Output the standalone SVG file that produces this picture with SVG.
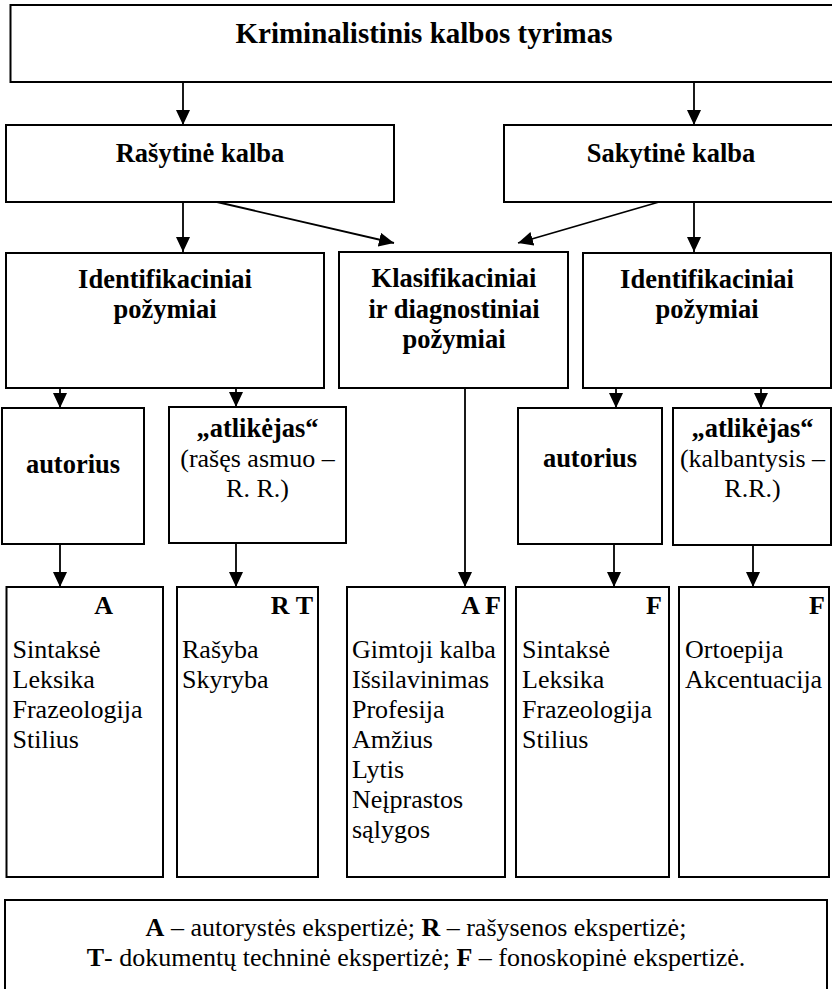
<svg xmlns="http://www.w3.org/2000/svg" width="832" height="989" viewBox="0 0 832 989">
<defs>
<marker id="ah" markerUnits="userSpaceOnUse" markerWidth="16" markerHeight="15" refX="15" refY="7" orient="auto">
<path d="M0,0 L15,7 L0,14 z" fill="#000"/>
</marker>
<style>
rect{fill:#fff;stroke:#000;stroke-width:2}
text{font-family:'Liberation Serif','DejaVu Serif',serif;fill:#000}
.t{font-size:29px;font-weight:bold;text-anchor:middle}
.h{font-size:26.5px;font-weight:bold;text-anchor:middle}
.r{font-size:26px;text-anchor:middle}
.l{font-size:26px}
.c{font-size:26px;font-weight:bold;text-anchor:end}
.g{font-size:26px;text-anchor:middle}
#conn line{stroke:#000;stroke-width:1.8;marker-end:url(#ah)}
</style>
</defs>
<rect x="0" y="0" width="832" height="989" style="fill:#fff;stroke:none"/>
<g id="conn">
<line x1="183" y1="82" x2="183" y2="125"/>
<line x1="694" y1="82" x2="694" y2="125"/>
<line x1="183" y1="202" x2="183" y2="252"/>
<line x1="217" y1="202" x2="394" y2="243"/>
<line x1="659" y1="202" x2="518" y2="243"/>
<line x1="694" y1="202" x2="694" y2="252"/>
<line x1="60" y1="388" x2="60" y2="408"/>
<line x1="236" y1="388" x2="236" y2="407"/>
<line x1="616" y1="388" x2="616" y2="408"/>
<line x1="761" y1="388" x2="761" y2="408"/>
<line x1="60" y1="544" x2="60" y2="587"/>
<line x1="236" y1="543" x2="236" y2="587"/>
<line x1="465" y1="388" x2="465" y2="587"/>
<line x1="614" y1="544" x2="614" y2="587"/>
<line x1="753" y1="545" x2="753" y2="587"/>
</g>
<g id="n-title">
<rect x="10.5" y="5" width="828" height="77"/>
<text class="t" x="424" y="43">Kriminalistinis kalbos tyrimas</text>
</g>
<g id="n-rasytine">
<rect x="6" y="125" width="388" height="77"/>
<text class="h" x="200" y="162">Rašytinė kalba</text>
</g>
<g id="n-sakytine">
<rect x="504" y="125" width="335" height="77"/>
<text class="h" x="671" y="162">Sakytinė kalba</text>
</g>
<g id="n-ident-l">
<rect x="6" y="253" width="318" height="135"/>
<text class="h" x="165" y="288">Identifikaciniai</text>
<text class="h" x="165" y="318">požymiai</text>
</g>
<g id="n-klasif">
<rect x="339" y="252" width="229" height="136"/>
<text class="h" x="454" y="287">Klasifikaciniai</text>
<text class="h" x="454" y="318">ir diagnostiniai</text>
<text class="h" x="454" y="348">požymiai</text>
</g>
<g id="n-ident-r">
<rect x="583" y="253" width="248" height="135"/>
<text class="h" x="707" y="288">Identifikaciniai</text>
<text class="h" x="707" y="318">požymiai</text>
</g>
<g id="n-autorius-l">
<rect x="2" y="408" width="142" height="136"/>
<text class="h" x="73" y="473">autorius</text>
</g>
<g id="n-atlikejas-l">
<rect x="169" y="407" width="177" height="136"/>
<text class="h" x="257.5" y="437">„atlikėjas“</text>
<text class="r" x="257.5" y="467">(rašęs asmuo –</text>
<text class="r" x="257.5" y="497">R. R.)</text>
</g>
<g id="n-autorius-r">
<rect x="518" y="408" width="144" height="136"/>
<text class="h" x="590" y="467">autorius</text>
</g>
<g id="n-atlikejas-r">
<rect x="673" y="408" width="158" height="137"/>
<text class="h" x="752.5" y="437">„atlikėjas“</text>
<text class="r" x="752.5" y="467">(kalbantysis –</text>
<text class="r" x="752.5" y="497">R.R.)</text>
</g>
<g id="n-a">
<rect x="6.5" y="587" width="156.5" height="290"/>
<text class="c" x="113" y="614">A</text>
<text class="l" x="12.5" y="658">Sintaksė</text>
<text class="l" x="12.5" y="688">Leksika</text>
<text class="l" x="12.5" y="718">Frazeologija</text>
<text class="l" x="12.5" y="748">Stilius</text>
</g>
<g id="n-rt">
<rect x="177" y="587" width="141" height="290"/>
<text class="c" x="313" y="614">R T</text>
<text class="l" x="182" y="658">Rašyba</text>
<text class="l" x="182" y="688">Skyryba</text>
</g>
<g id="n-af">
<rect x="347" y="587" width="158" height="290"/>
<text class="c" x="501" y="614">A F</text>
<text class="l" x="352" y="658">Gimtoji kalba</text>
<text class="l" x="352" y="688">Išsilavinimas</text>
<text class="l" x="352" y="718">Profesija</text>
<text class="l" x="352" y="748">Amžius</text>
<text class="l" x="352" y="778">Lytis</text>
<text class="l" x="352" y="808">Neįprastos</text>
<text class="l" x="352" y="838">sąlygos</text>
</g>
<g id="n-f1">
<rect x="516" y="587" width="153" height="290"/>
<text class="c" x="662" y="614">F</text>
<text class="l" x="522" y="658">Sintaksė</text>
<text class="l" x="522" y="688">Leksika</text>
<text class="l" x="522" y="718">Frazeologija</text>
<text class="l" x="522" y="748">Stilius</text>
</g>
<g id="n-f2">
<rect x="679" y="587" width="150" height="290"/>
<text class="c" x="825" y="614">F</text>
<text class="l" x="685" y="658">Ortoepija</text>
<text class="l" x="685" y="688">Akcentuacija</text>
</g>
<g id="n-legend">
<rect x="5" y="900" width="822" height="92"/>
<text class="g" x="416" y="936"><tspan font-weight="bold">A</tspan> – autorystės ekspertizė; <tspan font-weight="bold">R</tspan> – rašysenos ekspertizė;</text>
<text class="g" x="416" y="966"><tspan font-weight="bold">T</tspan>- dokumentų techninė ekspertizė; <tspan font-weight="bold">F</tspan> – fonoskopinė ekspertizė.</text>
</g>
</svg>
